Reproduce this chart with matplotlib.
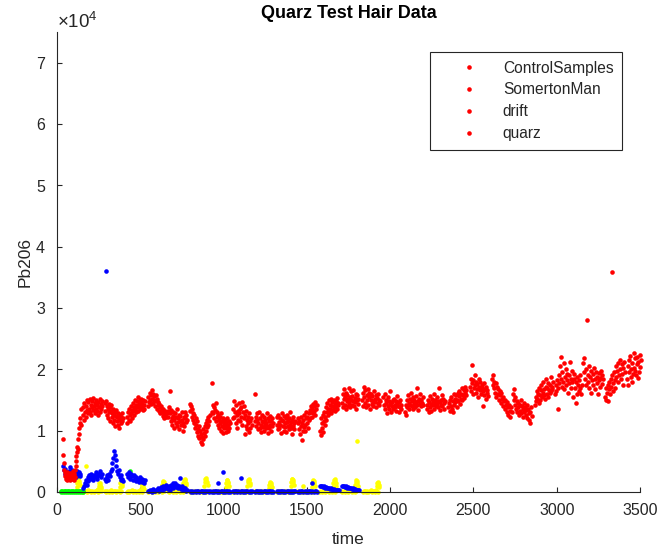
import numpy as np
import matplotlib
matplotlib.use("Agg")
import matplotlib.pyplot as plt
from matplotlib.ticker import ScalarFormatter
from matplotlib.lines import Line2D

plt.rcParams['font.family'] = ['Liberation Sans', 'DejaVu Sans']
plt.rcParams['mathtext.fontset'] = 'custom'
plt.rcParams['mathtext.rm'] = 'Liberation Sans'

# Pb206 in units of 1e4 counts, read off the picture burst by burst
# each burst: start time, end time, values (evenly sampled in between)

# --- red ---
red_t0 = [36, 155, 288, 420, 546, 666, 798, 930, 1056, 1188, 1320, 1446, 1579,
          1711, 1831, 1960, 2090, 2220, 2350, 2479, 2611, 2737, 2870, 2990,
          3158, 3290, 3422]
red_t1 = [145, 272, 396, 528, 660, 780, 916, 1038, 1168, 1296, 1428, 1558, 1688,
          1808, 1938, 2068, 2198, 2328, 2458, 2587, 2729, 2849, 2978, 3150,
          3278, 3408, 3505]
red_vals = [
    [0.87, 0.61, 0.48, 0.36, 0.26, 0.31, 0.22, 0.28, 0.19, 0.33, 0.25, 0.21, 0.29,
     0.24, 0.31, 0.2, 0.27, 0.23, 0.3, 0.25, 0.22, 0.34, 0.26, 0.2, 0.3, 0.24,
     0.36, 0.42, 0.5, 0.58, 0.66, 0.74, 0.7, 0.86, 0.95, 1.05, 1.12, 1.2, 1.1, 1.35],
    [1.25, 1.38, 1.18, 1.45, 1.3, 1.4, 1.22, 1.5, 1.34, 1.28, 1.46, 1.36, 1.52,
     1.3, 1.42, 1.26, 1.48, 1.38, 1.33, 1.54, 1.4, 1.28, 1.45, 1.35, 1.5, 1.32,
     1.42, 1.25, 1.47, 1.38, 1.52, 1.3, 1.44, 1.36, 1.49, 1.4],
    [1.45, 1.32, 1.48, 1.25, 1.4, 1.35, 1.2, 1.44, 1.3, 1.38, 1.15, 1.32, 1.42,
     1.22, 1.28, 1.12, 1.36, 1.25, 1.18, 1.3, 1.08, 1.24, 1.34, 1.15, 1.22, 1.1,
     1.28, 1.18, 1.05, 1.2, 1.26, 1.12, 1.22, 1.15, 1.28, 1.2],
    [1.22, 1.12, 1.3, 1.18, 1.36, 1.25, 1.15, 1.4, 1.28, 1.34, 1.2, 1.45, 1.32,
     1.38, 1.26, 1.5, 1.36, 1.42, 1.3, 1.48, 1.38, 1.55, 1.32, 1.44, 1.4, 1.5,
     1.35, 1.46, 1.52, 1.38, 1.44, 1.33, 1.5, 1.42, 1.36, 1.48],
    [1.4, 1.55, 1.46, 1.62, 1.5, 1.58, 1.44, 1.66, 1.52, 1.6, 1.45, 1.56, 1.5,
     1.4, 1.58, 1.48, 1.36, 1.52, 1.42, 1.46, 1.32, 1.44, 1.38, 1.28, 1.4, 1.3,
     1.35, 1.24, 1.36, 1.28, 1.2, 1.32, 1.26, 1.3, 1.22, 1.28],
    [1.32, 1.22, 1.38, 1.65, 1.28, 1.15, 1.34, 1.2, 1.1, 1.3, 1.24, 1.05, 1.18,
     1.28, 1.12, 1.22, 1.35, 1.08, 1.2, 1.14, 1.26, 1.02, 1.16, 1.24, 1.1, 1.3,
     1.18, 1.0, 1.12, 1.22, 1.08, 1.2, 1.3, 1.14, 1.25, 1.18],
    [1.44, 1.32, 1.4, 1.22, 1.35, 1.18, 1.28, 1.12, 1.25, 1.05, 1.2, 1.1, 0.98,
     1.15, 1.02, 0.92, 1.08, 0.88, 1.0, 0.82, 0.95, 0.78, 0.9, 1.02, 0.86, 0.96,
     1.08, 0.92, 1.12, 1.0, 1.18, 1.06, 1.22, 1.1, 1.15, 1.25],
    [1.3, 1.78, 1.42, 1.28, 1.38, 1.2, 1.34, 1.45, 1.15, 1.3, 1.22, 1.1, 1.26,
     1.18, 1.05, 1.22, 1.12, 1.28, 1.0, 1.15, 1.08, 1.2, 0.96, 1.12, 1.04, 1.18,
     1.1, 0.98, 1.14, 1.05, 1.2, 1.0, 1.1, 1.15, 1.04, 1.12],
    [1.2, 1.35, 1.48, 1.22, 1.3, 1.12, 1.42, 1.25, 1.05, 1.32, 1.18, 1.45, 1.28,
     1.36, 1.15, 1.38, 1.22, 1.46, 1.1, 1.3, 1.2, 1.4, 0.95, 1.25, 1.08, 1.32,
     1.18, 1.02, 1.22, 1.12, 1.28, 0.98, 1.15, 1.05, 1.2, 1.1],
    [1.15, 1.6, 1.22, 1.08, 1.18, 1.28, 1.02, 1.12, 1.3, 1.05, 1.2, 1.1, 0.98,
     1.16, 1.26, 1.06, 1.14, 1.22, 1.0, 1.1, 1.18, 1.04, 1.12, 1.28, 1.08, 1.2,
     0.96, 1.15, 1.05, 1.24, 1.1, 1.0, 1.16, 1.08, 1.2, 1.12],
    [1.1, 1.22, 1.02, 1.26, 1.14, 1.05, 1.2, 1.1, 0.96, 1.18, 1.28, 1.08, 1.15,
     1.0, 1.24, 1.12, 1.06, 1.2, 0.98, 1.14, 1.26, 1.08, 1.16, 1.02, 1.2, 1.1,
     1.3, 1.04, 1.14, 0.95, 1.18, 1.08, 1.22, 1.12, 1.02, 1.15],
    [1.12, 1.2, 1.02, 1.15, 0.95, 1.08, 1.22, 0.85, 1.12, 1.0, 1.18, 1.06, 1.25,
     1.1, 1.0, 1.2, 1.3, 1.12, 1.22, 1.05, 1.28, 1.18, 1.34, 1.2, 1.3, 1.4,
     1.22, 1.35, 1.28, 1.44, 1.32, 1.4, 1.26, 1.46, 1.36, 1.42],
    [1.0, 1.2, 0.93, 1.12, 1.05, 1.25, 0.98, 1.15, 1.3, 1.1, 1.22, 1.38, 1.18,
     1.3, 1.45, 1.25, 1.35, 1.5, 1.3, 1.42, 1.36, 1.52, 1.28, 1.4, 1.46, 1.34,
     1.5, 1.38, 1.44, 1.32, 1.48, 1.4, 1.53, 1.36, 1.45, 1.42],
    [1.45, 1.6, 1.38, 1.52, 1.68, 1.42, 1.55, 1.35, 1.62, 1.48, 1.58, 1.4, 1.52,
     1.7, 1.45, 1.55, 1.38, 1.64, 1.5, 1.42, 1.56, 1.48, 1.66, 1.4, 1.54, 1.46,
     1.6, 1.36, 1.5, 1.58, 1.44, 1.52],
    [1.5, 1.62, 1.4, 1.72, 1.55, 1.45, 1.66, 1.38, 1.58, 1.5, 1.68, 1.42, 1.55,
     1.62, 1.35, 1.5, 1.6, 1.44, 1.56, 1.48, 1.4, 1.64, 1.52, 1.46, 1.58, 1.38,
     1.54, 1.45, 1.6, 1.42, 1.5, 1.48],
    [1.55, 1.42, 1.6, 1.35, 1.5, 1.45, 1.28, 1.55, 1.4, 1.48, 1.36, 1.64, 1.44,
     1.3, 1.46, 1.4, 1.5, 1.35, 1.52, 1.42, 1.38, 1.48, 1.32, 1.45, 1.56, 1.4,
     1.3, 1.46, 1.38, 1.5, 1.42, 1.36],
    [1.3, 1.42, 1.26, 1.5, 1.38, 1.58, 1.45, 1.35, 1.52, 1.42, 1.62, 1.4, 1.48,
     1.36, 1.55, 1.44, 1.5, 1.38, 1.46, 1.56, 1.42, 1.7, 1.48, 1.34, 1.52, 1.44,
     1.6, 1.4, 1.5, 1.45, 1.55, 1.42],
    [1.42, 1.35, 1.5, 1.3, 1.46, 1.56, 1.38, 1.44, 1.32, 1.52, 1.42, 1.48, 1.6,
     1.36, 1.45, 1.5, 1.4, 1.55, 1.44, 1.48, 1.38, 1.7, 1.46, 1.34, 1.5, 1.42,
     1.58, 1.4, 1.52, 1.45, 1.36, 1.48],
    [1.38, 1.45, 1.32, 1.5, 1.4, 1.55, 1.36, 1.48, 1.3, 1.6, 1.42, 1.52, 1.46,
     1.58, 1.38, 1.5, 1.62, 1.48, 1.56, 1.65, 1.44, 1.52, 1.6, 1.7, 1.5, 1.58,
     1.66, 1.54, 1.62, 1.72, 1.58, 1.66],
    [1.72, 1.85, 1.65, 2.07, 1.78, 1.6, 1.82, 1.7, 1.9, 1.75, 1.62, 1.8, 1.68,
     1.76, 1.55, 1.84, 1.72, 1.66, 1.8, 1.6, 1.74, 1.7, 1.4, 1.64, 1.78, 1.58,
     1.68, 1.52, 1.72, 1.62, 1.66, 1.56],
    [1.85, 1.75, 1.9, 1.7, 1.8, 1.62, 1.78, 1.55, 1.72, 1.68, 1.6, 1.5, 1.65,
     1.58, 1.45, 1.62, 1.52, 1.4, 1.55, 1.48, 1.35, 1.5, 1.42, 1.3, 1.46, 1.38,
     1.25, 1.42, 1.32, 1.22, 1.38, 1.3],
    [1.6, 1.5, 1.68, 1.42, 1.55, 1.35, 1.48, 1.3, 1.45, 1.38, 1.25, 1.42, 1.32,
     1.5, 1.28, 1.4, 1.35, 1.22, 1.45, 1.3, 1.38, 1.26, 1.34, 1.42, 1.2, 1.36,
     1.28, 1.18, 1.12, 1.3, 1.38, 1.24],
    [1.42, 1.55, 1.48, 1.65, 1.52, 1.6, 1.45, 1.7, 1.58, 1.5, 1.66, 1.75, 1.55,
     1.62, 1.8, 1.58, 1.68, 1.52, 1.72, 1.85, 1.6, 1.7, 1.78, 1.55, 1.66, 1.62,
     1.74, 1.88, 1.64, 1.72, 1.68, 1.8],
    [1.6, 1.75, 1.65, 1.82, 1.35, 1.7, 1.9, 1.78, 2.05, 1.85, 2.2, 1.72, 1.95,
     1.8, 2.1, 1.68, 1.88, 1.75, 2.0, 1.82, 1.92, 1.62, 1.9, 1.78, 2.12, 1.85,
     1.7, 1.98, 1.8, 1.55, 1.85, 1.92, 1.7, 1.45, 1.8, 1.6, 1.88, 1.75, 1.65,
     1.82, 1.7, 1.9, 1.6, 1.75],
    [2.1, 1.95, 2.18, 1.85, 1.75, 2.0, 2.8, 1.9, 1.8, 2.05, 1.7, 1.88, 1.98,
     1.62, 1.82, 1.92, 1.75, 2.02, 1.85, 1.68, 1.95, 1.78, 1.88, 1.6, 1.82, 1.94,
     1.72, 1.86, 1.98, 1.76, 1.9, 1.84],
    [1.55, 1.7, 1.5, 1.62, 1.75, 1.48, 1.68, 1.8, 1.6, 1.85, 1.72, 1.9, 1.65,
     1.78, 1.95, 1.82, 1.7, 2.05, 1.88, 1.98, 1.8, 2.1, 1.9, 2.16, 2.0, 1.85,
     2.08, 1.92, 2.02, 1.75, 2.12, 1.96],
    [1.85, 2.05, 1.75, 2.15, 1.95, 2.22, 1.88, 2.0, 1.8, 2.1, 1.92, 2.27, 2.02,
     1.98, 2.18, 1.9, 2.08, 2.2, 1.86, 2.12, 1.96, 2.24, 2.04, 2.16],
]
red_single_t = [3332]
red_single_v = [3.59]

# --- blue ---
blue_t0 = [36, 156, 288, 420, 546, 666, 798, 930, 1056, 1188, 1320, 1446, 1579, 1711]
blue_t1 = [140, 270, 396, 528, 660, 782, 918, 1040, 1170, 1298, 1430, 1560, 1690, 1812]
blue_vals = [
    [0.42, 0.36, 0.3, 0.38, 0.28, 0.33, 0.26, 0.35, 0.3, 0.4, 0.27, 0.32, 0.36,
     0.29, 0.34, 0.31, 0.25, 0.3, 0.35, 0.28, 0.32, 0.26, 0.3],
    [0.06, 0.1, 0.15, 0.2, 0.12, 0.24, 0.18, 0.27, 0.22, 0.3, 0.25, 0.2, 0.28,
     0.24, 0.32, 0.26, 0.22, 0.3, 0.27, 0.34, 0.25, 0.3],
    [0.22, 0.18, 0.28, 0.24, 0.2, 0.3, 0.26, 0.34, 0.38, 0.48, 0.56, 0.67, 0.6,
     0.52, 0.42, 0.35, 0.3, 0.36, 0.25, 0.2, 0.28, 0.22, 0.18],
    [0.3, 0.25, 0.33, 0.28, 0.22, 0.3, 0.26, 0.2, 0.28, 0.24, 0.18, 0.25, 0.22,
     0.2, 0.17, 0.24, 0.2, 0.16, 0.22, 0.19, 0.15, 0.2],
    [0.02, 0.01, 0.04, 0.02, 0.0, 0.03, 0.05, 0.02, 0.01, 0.04, 0.03, 0.06, 0.02,
     0.05, 0.08, 0.04, 0.07, 0.1, 0.05, 0.08, 0.12, 0.06],
    [0.05, 0.1, 0.04, 0.12, 0.08, 0.15, 0.06, 0.1, 0.14, 0.08, 0.12, 0.06, 0.1,
     0.23, 0.05, 0.09, 0.04, 0.07, 0.03, 0.06, 0.02, 0.04],
    [0.01, 0.0, 0.02, 0.0, 0.01, 0.0, 0.02, 0.01, 0.0, 0.01, 0.02, 0.0, 0.01, 0.0,
     0.01, 0.02, 0.0, 0.01],
    [0.0, 0.01, 0.0, 0.02, 0.01, 0.0, 0.01, 0.0, 0.02, 0.01, 0.0, 0.01, 0.0, 0.02,
     0.01, 0.0, 0.01, 0.0],
    [0.01, 0.0, 0.01, 0.02, 0.0, 0.01, 0.0, 0.01, 0.02, 0.0, 0.01, 0.0, 0.02, 0.01,
     0.0, 0.01, 0.0, 0.01],
    [0.0, 0.01, 0.02, 0.0, 0.01, 0.0, 0.01, 0.0, 0.01, 0.02, 0.0, 0.01, 0.0, 0.01,
     0.02, 0.0, 0.01, 0.0],
    [0.01, 0.0, 0.01, 0.0, 0.02, 0.01, 0.0, 0.01, 0.0, 0.01, 0.02, 0.0, 0.01, 0.0,
     0.01, 0.0, 0.02, 0.01],
    [0.0, 0.01, 0.0, 0.01, 0.02, 0.0, 0.01, 0.0, 0.01, 0.0, 0.02, 0.01, 0.0, 0.01,
     0.0, 0.02, 0.01, 0.0],
    [0.1, 0.09, 0.1, 0.08, 0.09, 0.07, 0.08, 0.06, 0.07, 0.06, 0.05, 0.06, 0.05,
     0.04, 0.05, 0.04, 0.04, 0.03, 0.04, 0.03],
    [0.1, 0.09, 0.1, 0.08, 0.09, 0.08, 0.07, 0.08, 0.06, 0.07, 0.06, 0.05, 0.06,
     0.05, 0.04, 0.05, 0.04, 0.03, 0.04, 0.03],
]
blue_single_t = [294, 966, 996, 1104, 1530]
blue_single_v = [3.6, 0.15, 0.33, 0.23, 0.15]

# --- yellow: flat runs on the floor, then a small bump at the end of each run ---
yellow_t0 = [155, 288, 420, 546, 666, 798, 930, 1056, 1188, 1320, 1446, 1575, 1705, 1835]
yellow_t1 = [262, 385, 512, 640, 768, 895, 1025, 1152, 1282, 1412, 1540, 1668, 1795, 1925]
yellow_vals = [
    [0.0, 0.02, 0.01, 0.0, 0.03, 0.01, 0.0, 0.02, 0.0, 0.01, 0.03, 0.0, 0.02, 0.01],
    [0.01, 0.0, 0.02, 0.0, 0.01, 0.03, 0.0, 0.02, 0.01, 0.0, 0.02, 0.01, 0.0, 0.02],
    [0.0, 0.02, 0.0, 0.01, 0.03, 0.0, 0.01, 0.02, 0.0, 0.01, 0.0, 0.03, 0.01, 0.0],
    [0.0, 0.01, 0.02, 0.0, 0.01, 0.0, 0.02, 0.0, 0.01, 0.02, 0.0, 0.01],
    [0.01, 0.0, 0.02, 0.0, 0.01, 0.0, 0.02, 0.01, 0.0, 0.01, 0.0, 0.02],
    [0.0, 0.02, 0.0, 0.01, 0.0, 0.01, 0.02, 0.0, 0.01, 0.0, 0.02, 0.0],
    [0.01, 0.0, 0.01, 0.02, 0.0, 0.01, 0.0, 0.02, 0.0, 0.01, 0.0, 0.01],
    [0.0, 0.01, 0.0, 0.02, 0.01, 0.0, 0.01, 0.0, 0.02, 0.0, 0.01, 0.0],
    [0.02, 0.0, 0.01, 0.0, 0.01, 0.02, 0.0, 0.01, 0.0, 0.02, 0.01, 0.0],
    [0.0, 0.01, 0.02, 0.0, 0.01, 0.0, 0.01, 0.02, 0.0, 0.01, 0.0, 0.02],
    [0.01, 0.0, 0.01, 0.0, 0.02, 0.0, 0.01, 0.0, 0.02, 0.01, 0.0, 0.01],
    [0.0, 0.02, 0.0, 0.01, 0.0, 0.02, 0.01, 0.0, 0.01, 0.0, 0.02, 0.0],
    [0.01, 0.0, 0.02, 0.0, 0.01, 0.0, 0.01, 0.02, 0.0, 0.01, 0.0, 0.01],
    [0.0, 0.02, 0.01, 0.0, 0.02, 0.0, 0.01, 0.03, 0.0, 0.01, 0.02, 0.0, 0.01, 0.0],
]
yellow_bump_t0 = [118, 248, 376, 506, 628, 756, 884, 1014, 1142, 1272, 1402,
                  1530, 1656, 1786, 1916]
yellow_bump_t1 = [138, 266, 392, 520, 648, 776, 904, 1032, 1160, 1290, 1420,
                  1548, 1676, 1806, 1936]
yellow_bump_vals = [
    [0.08, 0.14, 0.19, 0.21, 0.18, 0.15, 0.12],
    [0.05, 0.1, 0.14, 0.15, 0.12, 0.08, 0.05],
    [0.08, 0.14, 0.18, 0.2, 0.17, 0.13, 0.1],
    [0.04, 0.08, 0.11, 0.12, 0.1, 0.07, 0.05],
    [0.06, 0.12, 0.16, 0.18, 0.16, 0.13, 0.1],
    [0.08, 0.15, 0.2, 0.22, 0.19, 0.15, 0.11],
    [0.1, 0.16, 0.21, 0.23, 0.2, 0.16, 0.12],
    [0.08, 0.14, 0.19, 0.2, 0.17, 0.14, 0.1],
    [0.1, 0.16, 0.2, 0.22, 0.19, 0.15, 0.11],
    [0.06, 0.11, 0.15, 0.17, 0.15, 0.12, 0.08],
    [0.1, 0.16, 0.21, 0.22, 0.2, 0.16, 0.12],
    [0.08, 0.14, 0.18, 0.2, 0.18, 0.14, 0.1],
    [0.08, 0.14, 0.19, 0.21, 0.18, 0.14, 0.1],
    [0.06, 0.12, 0.17, 0.2, 0.18, 0.14, 0.1],
    [0.04, 0.1, 0.15, 0.17, 0.15, 0.12, 0.08],
]
yellow_single_t = [176, 1476, 1800]
yellow_single_v = [0.43, 0.09, 0.83]

# --- green ---
green_t0 = [22]
green_t1 = [158]
green_vals = [
    [0.0, 0.01, 0.02, 0.0, 0.01, 0.0, 0.02, 0.01, 0.0, 0.01, 0.02, 0.0, 0.01,
     0.0, 0.02, 0.01, 0.0, 0.01, 0.0, 0.02, 0.01, 0.0, 0.01, 0.0, 0.02, 0.01,
     0.0, 0.01, 0.02, 0.0],
]
green_single_t = [438]
green_single_v = [0.34]


def bursts(t0, t1, vals, single_t, single_v):
    t, v = [], []
    for a, b, vs in zip(t0, t1, vals):
        t.extend(np.linspace(a, b, len(vs)))
        v.extend(vs)
    t.extend(single_t)
    v.extend(single_v)
    return np.array(t), np.array(v) * 1e4


yt1, yv1 = bursts(yellow_t0, yellow_t1, yellow_vals, yellow_single_t, yellow_single_v)
yt2, yv2 = bursts(yellow_bump_t0, yellow_bump_t1, yellow_bump_vals, [], [])
gt, gv = bursts(green_t0, green_t1, green_vals, green_single_t, green_single_v)
bt, bv = bursts(blue_t0, blue_t1, blue_vals, blue_single_t, blue_single_v)
rt, rv = bursts(red_t0, red_t1, red_vals, red_single_t, red_single_v)

fig = plt.figure(figsize=(6.61, 5.53), dpi=100)
ax = fig.add_axes([57 / 661, 61 / 553, 583 / 661, 460 / 553])

ms = 3.3
ax.plot(np.concatenate([yt1, yt2]), np.concatenate([yv1, yv2]), 'o', color=(1, 1, 0),
        ms=ms, mew=0, clip_on=False)
ax.plot(gt, gv, 'o', color=(0, 1, 0), ms=ms, mew=0, clip_on=False)
ax.plot(bt, bv, 'o', color=(0, 0, 1), ms=ms, mew=0, clip_on=False)
ax.plot(rt, rv, 'o', color=(1, 0, 0), ms=ms, mew=0, clip_on=False)

ax.set_xlim(0, 3500)
ax.set_ylim(0, 7.5e4)
ax.set_xticks(np.arange(0, 3501, 500))
ax.set_yticks(np.arange(0, 7.01e4, 1e4))

fmt = ScalarFormatter(useMathText=True)
fmt.set_powerlimits((0, 0))
ax.yaxis.set_major_formatter(fmt)

axis_col = '#262626'
for s in ['top', 'right']:
    ax.spines[s].set_visible(False)
for s in ['left', 'bottom']:
    ax.spines[s].set_color(axis_col)
    ax.spines[s].set_linewidth(0.8)
ax.tick_params(direction='in', length=3.6, width=0.8, colors=axis_col,
               labelsize=11.5, pad=8)
ax.yaxis.get_offset_text().set_fontsize(13.5)
ax.yaxis.get_offset_text().set_color(axis_col)

ax.set_title('Quarz Test Hair Data', fontsize=13, fontweight='bold', y=1.0, pad=10)
ax.set_xlabel('time', fontsize=12.5, color=axis_col, labelpad=10)
ax.set_ylabel('Pb206', fontsize=12.5, color=axis_col, labelpad=2)

labels = ['ControlSamples', 'SomertonMan', 'drift', 'quarz']
handles = [Line2D([], [], ls='none', marker='o', ms=ms, mew=0, color=(1, 0, 0))
           for _ in labels]
leg = ax.legend(handles, labels, loc='upper right',
                bbox_to_anchor=(622 / 661, 1 - 52 / 553), bbox_transform=fig.transFigure,
                fontsize=11.2, frameon=True, fancybox=False, framealpha=1,
                borderpad=0.55, handlelength=3.8, handletextpad=0.3,
                labelspacing=0.44, borderaxespad=0)
leg.get_frame().set_edgecolor(axis_col)
leg.get_frame().set_linewidth(0.8)
for t in leg.get_texts():
    t.set_color(axis_col)

fig.savefig('out.png', dpi=100)
